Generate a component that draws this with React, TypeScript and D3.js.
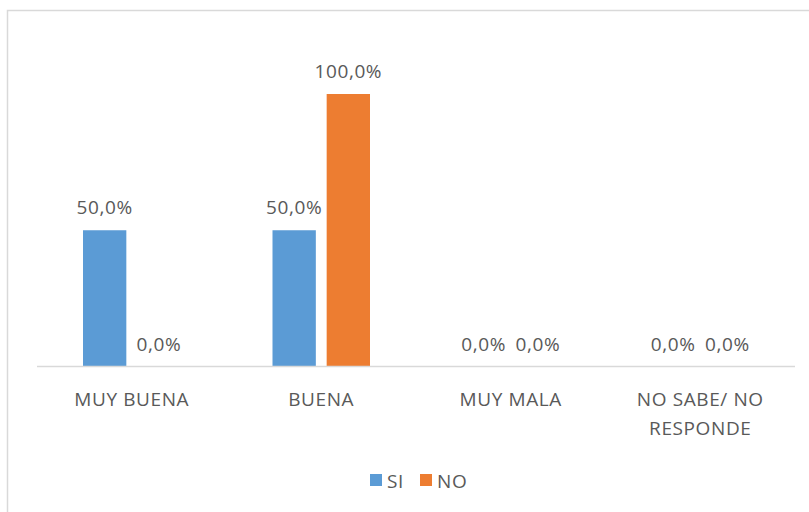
import * as d3 from "d3";

const categories = ["MUY BUENA", "BUENA", "MUY MALA", "NO SABE/ NO RESPONDE"];
const categoryLines = [["MUY BUENA"], ["BUENA"], ["MUY MALA"], ["NO SABE/ NO", "RESPONDE"]];
const seriesNames = ["SI", "NO"];
const siValues = [0.5, 0.5, 0, 0];
const noValues = [0, 1, 0, 0];

const COLORS = ["#5B9BD5", "#ED7D31"];
const TEXT = "#595959";
const GRID = "#D9D9D9";
const FONT = "'Open Sans', Calibri, sans-serif";
const FS = 19;
const LS = 0.6;

export default function App() {
  const width = 809;
  const height = 512;
  const plot = { left: 37, right: 795, top: 94, bottom: 366.5 };

  const x0 = d3.scaleBand<string>().domain(categories).range([plot.left, plot.right]).padding(0);
  const outer = 46;
  const x1 = d3
    .scaleBand<string>()
    .domain(seriesNames)
    .range([outer, x0.bandwidth() - outer])
    .paddingInner(0.2)
    .paddingOuter(0);
  const y = d3.scaleLinear().domain([0, 1]).range([plot.bottom, plot.top]);

  const fmt = (v: number) => (v * 100).toFixed(1).replace(".", ",") + "%";
  const series = [siValues, noValues];

  return (
    <div style={{ position: "fixed", left: 0, top: 0 }}>
      <svg width={width} height={height} style={{ display: "block", background: "#fff" }}>
        <rect x={7.5} y={10.5} width={width + 10} height={height + 10} fill="#fff" stroke={GRID} strokeWidth={1.5} />

        {/* bars */}
        {series.map((vals, si) =>
          vals.map((v, i) => {
            const bx = (x0(categories[i]) ?? 0) + (x1(seriesNames[si]) ?? 0);
            return (
              <rect
                key={`b-${si}-${i}`}
                x={bx}
                y={y(v)}
                width={x1.bandwidth()}
                height={plot.bottom - y(v)}
                fill={COLORS[si]}
              />
            );
          })
        )}

        {/* axis line */}
        <line x1={plot.left} x2={plot.right} y1={plot.bottom} y2={plot.bottom} stroke={GRID} strokeWidth={1.5} />

        {/* value labels */}
        {series.map((vals, si) =>
          vals.map((v, i) => {
            const cx = (x0(categories[i]) ?? 0) + (x1(seriesNames[si]) ?? 0) + x1.bandwidth() / 2;
            return (
              <text
                key={`l-${si}-${i}`}
                x={cx}
                y={y(v) - 16}
                textAnchor="middle"
                fontFamily={FONT}
                fontSize={FS}
                letterSpacing={LS}
                fill={TEXT}
              >
                {fmt(v)}
              </text>
            );
          })
        )}

        {/* category labels */}
        {categories.map((c, i) => (
          <text
            key={`c-${i}`}
            x={(x0(c) ?? 0) + x0.bandwidth() / 2}
            y={406}
            textAnchor="middle"
            fontFamily={FONT}
            fontSize={FS}
            letterSpacing={LS}
            fill={TEXT}
          >
            {categoryLines[i].map((ln, j) => (
              <tspan key={j} x={(x0(c) ?? 0) + x0.bandwidth() / 2} dy={j === 0 ? 0 : 28.5}>
                {ln}
              </tspan>
            ))}
          </text>
        ))}

        {/* legend */}
        {seriesNames.map((s, i) => {
          const lx = [370, 420][i];
          return (
            <g key={`lg-${i}`}>
              <rect x={lx} y={474} width={12} height={12} fill={COLORS[i]} />
              <text x={lx + 17} y={488} fontFamily={FONT} fontSize={FS} letterSpacing={LS} fill={TEXT}>
                {s}
              </text>
            </g>
          );
        })}
      </svg>
    </div>
  );
}
